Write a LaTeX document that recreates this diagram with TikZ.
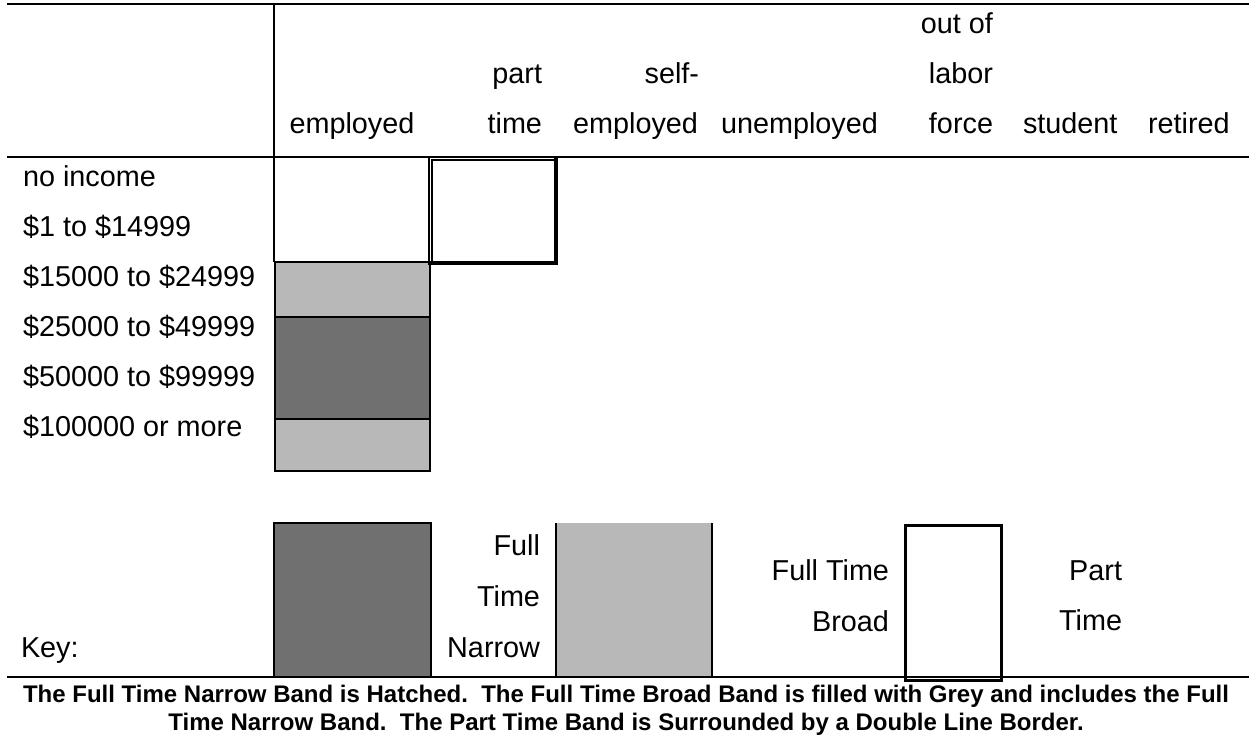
\documentclass[tikz,border=0pt]{standalone}
\usepackage{fontspec}
\setmainfont{Liberation Sans}

\definecolor{bandgrey}{RGB}{184,184,184}
\definecolor{hatchgrey}{RGB}{112,112,112}

\tikzset{
  txt/.style={inner sep=0pt, outer sep=0pt, font=\fontsize{12}{14}\selectfont},
  captiontxt/.style={inner sep=0pt, outer sep=0pt, font=\fontsize{10}{12}\selectfont\bfseries},
  rule/.style={line width=0.5pt},
  heavy/.style={line width=0.85pt},
  broadband/.style={fill=bandgrey},
  narrowband/.style={fill=hatchgrey},
}

\begin{document}
\begin{tikzpicture}[x=0.41667pt, y=-0.41667pt]
\useasboundingbox (0,0) rectangle (1252,740);
\fill[white] (0,0) rectangle (1252,740);

% ---- header rules
\draw[rule] (7,4) -- (1249,4);
\draw[rule] (7,157) -- (1249,157);
\draw[rule] (274,4) -- (274,262);

% ---- column headings
\node[txt, anchor=base] (hEmp) at (352,133) {employed};
\node[txt, anchor=base east] (hPartA) at (542,83) {part};
\node[txt, anchor=base east] (hPartB) at (542,133) {time};
\node[txt, anchor=base east] (hSelfA) at (699,83) {self-};
\node[txt, anchor=base east] (hSelfB) at (698,133) {employed};
\node[txt, anchor=base west] (hUnemp) at (721,133) {unemployed};
\node[txt, anchor=base east] (hOutA) at (993,33) {out of};
\node[txt, anchor=base east] (hOutB) at (993,83) {labor};
\node[txt, anchor=base east] (hOutC) at (993,133) {force};
\node[txt, anchor=base west] (hStud) at (1023,133) {student};
\node[txt, anchor=base west] (hRet) at (1148,133) {retired};

% ---- income rows
\node[txt, anchor=base west] (r1) at (23,186) {no income};
\node[txt, anchor=base west] (r2) at (23,236) {\$1 to \$14999};
\node[txt, anchor=base west] (r3) at (23,286) {\$15000 to \$24999};
\node[txt, anchor=base west] (r4) at (23,336) {\$25000 to \$49999};
\node[txt, anchor=base west] (r5) at (23,386) {\$50000 to \$99999};
\node[txt, anchor=base west] (r6) at (23,436) {\$100000 or more};

% ---- employed column: broad band with narrow band inside
\fill[broadband] (274,262) rectangle (431,472);
\fill[narrowband] (275,317) rectangle (430,419);
\draw[rule] (274,262) -- (431,262);
\draw[heavy] (275,262) -- (275,471) -- (430,471) -- (430,262);
\draw[heavy] (275,317) -- (430,317);
\draw[heavy] (275,419) -- (430,419);

% ---- part time band: double line border
\draw[rule] (429,265) -- (429,157) -- (558,157);
\draw[rule] (432,262) -- (432,160) -- (555,160);
\fill (554,157) rectangle (558,265);
\fill (429,261) rectangle (558,265);

% ---- key
\node[txt, anchor=base west] (kKey) at (21,657) {Key:};
\fill[narrowband] (274,523) rectangle (431,677);
\draw[rule] (274,523) rectangle (431,677);
\node[txt, anchor=base east] (kNarA) at (540,555) {Full};
\node[txt, anchor=base east] (kNarB) at (540,606) {Time};
\node[txt, anchor=base east] (kNarC) at (540,657) {Narrow};
\fill[broadband] (556,523) rectangle (712,677);
\draw[rule] (556,523) -- (556,677);
\draw[rule] (712,523) -- (712,677);
\node[txt, anchor=base east] (kBroA) at (889,580) {Full Time};
\node[txt, anchor=base east] (kBroB) at (889,631) {Broad};
\draw[line width=1.4pt] (905.5,525.5) rectangle (1001.5,680.5);
\node[txt, anchor=base east] (kPtA) at (1122,580) {Part};
\node[txt, anchor=base east] (kPtB) at (1122,630) {Time};
\draw[heavy] (7,677) -- (1249,677);

% ---- caption
\node[captiontxt, anchor=base] (capA) at (626,702) {The Full Time Narrow Band is Hatched.\ \ The Full Time Broad Band is filled with Grey and includes the Full};
\node[captiontxt, anchor=base] (capB) at (626,730) {Time Narrow Band.\ \ The Part Time Band is Surrounded by a Double Line Border.};
\end{tikzpicture}
\end{document}
